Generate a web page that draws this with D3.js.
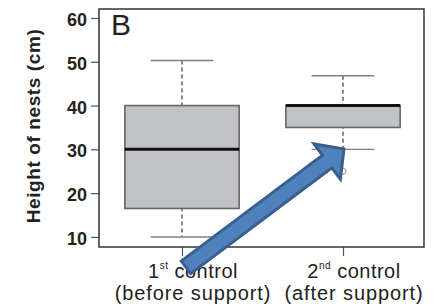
<!DOCTYPE html>
<html>
<head>
<meta charset="utf-8">
<script src="https://cdn.jsdelivr.net/npm/d3@7"></script>
<style>
  body { margin: 0; background: #fff; }
  text { font-family: "Liberation Sans", Arial, sans-serif; fill: #222; }
</style>
</head>
<body>
<script>
// box statistics
const groups = ["1st control", "2nd control"];
const sups = ["st", "nd"];
const subLabels = ["(before support)", "(after support)"];
const whiskLow = [10, 30];
const q1 = [16.5, 35];
const medians = [30, 40];
const q3 = [40, 40];
const whiskHigh = [50.3, 46.8];
const outliers = [[], [25]];
const yTicks = [10, 20, 30, 40, 50, 60];
// arrow annotation, [group position, value]
const arrowFrom = [1.025, 3.05];
const arrowTo = [2.006, 30.1];

const W = 436, H = 307;
const margin = {top: 9, right: 12, bottom: 60, left: 99};

let svg = d3.select("body").append("svg")
    .attr("width", W)
    .attr("height", H);

let xScale = d3.scaleLinear()
    .domain([0.4845, 2.503])
    .range([margin.left, W - margin.right]);

let yScale = d3.scaleLinear()
    .domain([7.7, 62.05])
    .range([H - margin.bottom, margin.top]);

const boxW = 0.71, capW = 0.39;
const data = groups.map((g, i) => ({
    pos: i + 1, lo: whiskLow[i], q1: q1[i], med: medians[i],
    q3: q3[i], hi: whiskHigh[i], out: outliers[i]
}));

// y axis (R style: ticks sit on the frame)
let yAxis = d3.axisLeft(yScale).tickValues(yTicks).tickSize(8).tickPadding(4);
let gy = svg.append("g")
    .attr("transform", `translate(${margin.left},0)`)
    .call(yAxis);
gy.select(".domain").remove();
gy.selectAll(".tick line").attr("stroke", "#555").attr("stroke-width", 1.2);
gy.selectAll(".tick text")
    .attr("font-size", "18px")
    .attr("font-weight", "bold")
    .attr("font-family", "Liberation Sans, Arial, sans-serif")
    .attr("fill", "#222")
    .attr("dy", "0.42em");

// x axis ticks
let xAxis = d3.axisBottom(xScale).tickValues([1, 2]).tickSize(9).tickFormat("");
let gx = svg.append("g")
    .attr("transform", `translate(0,${H - margin.bottom})`)
    .call(xAxis);
gx.select(".domain").remove();
gx.selectAll(".tick line").attr("stroke", "#555").attr("stroke-width", 1.2);

// whiskers
let boxes = svg.append("g").selectAll("g")
    .data(data)
    .join("g");

boxes.append("line")
    .attr("x1", d => xScale(d.pos)).attr("x2", d => xScale(d.pos))
    .attr("y1", d => yScale(d.hi)).attr("y2", d => yScale(d.lo))
    .attr("stroke", "#111")
    .attr("stroke-width", 1)
    .attr("stroke-dasharray", "4,3");

boxes.selectAll(".cap")
    .data(d => [d, d].map((e, k) => ({pos: e.pos, v: k ? e.lo : e.hi})))
    .join("line")
    .attr("class", "cap")
    .attr("x1", d => xScale(d.pos - capW / 2))
    .attr("x2", d => xScale(d.pos + capW / 2))
    .attr("y1", d => yScale(d.v)).attr("y2", d => yScale(d.v))
    .attr("stroke", "#808080")
    .attr("stroke-width", 1.4);

boxes.append("rect")
    .attr("x", d => xScale(d.pos - boxW / 2))
    .attr("width", d => xScale(d.pos + boxW / 2) - xScale(d.pos - boxW / 2))
    .attr("y", d => yScale(d.q3))
    .attr("height", d => yScale(d.q1) - yScale(d.q3))
    .attr("fill", "#c1c2c6")
    .attr("stroke", "#666")
    .attr("stroke-width", 1.6);

boxes.append("line")
    .attr("x1", d => xScale(d.pos - boxW / 2))
    .attr("x2", d => xScale(d.pos + boxW / 2))
    .attr("y1", d => yScale(d.med)).attr("y2", d => yScale(d.med))
    .attr("stroke", "#111")
    .attr("stroke-width", 3);

boxes.selectAll("circle")
    .data(d => d.out.map(v => ({pos: d.pos, v: v})))
    .join("circle")
    .attr("cx", d => xScale(d.pos))
    .attr("cy", d => yScale(d.v))
    .attr("r", 3)
    .attr("fill", "none")
    .attr("stroke", "#888")
    .attr("stroke-width", 1);

// frame
svg.append("rect")
    .attr("x", margin.left)
    .attr("y", margin.top)
    .attr("width", W - margin.right - margin.left)
    .attr("height", H - margin.bottom - margin.top)
    .attr("fill", "none")
    .attr("stroke", "#333")
    .attr("stroke-width", 1.5);

// panel letter
svg.append("text")
    .attr("x", margin.left + 12)
    .attr("y", margin.top + 26)
    .attr("font-size", "30px")
    .text("B");

// group labels
const labelDx = 11;
let xl = svg.append("g").selectAll("g")
    .data(groups)
    .join("g");

let line1 = xl.append("text")
    .attr("x", (d, i) => xScale(i + 1) + labelDx)
    .attr("y", H - margin.bottom + 31)
    .attr("text-anchor", "middle")
    .attr("font-size", "20px")
    .attr("letter-spacing", "0.5px");
line1.append("tspan").text(d => d.split(/[a-z]/)[0]);
line1.append("tspan")
    .attr("font-size", "10px")
    .attr("dy", -9)
    .text((d, i) => sups[i]);
line1.append("tspan")
    .attr("dy", 9)
    .text(d => " " + d.split(" ")[1]);

xl.append("text")
    .attr("x", (d, i) => xScale(i + 1) + labelDx)
    .attr("y", H - margin.bottom + 53)
    .attr("text-anchor", "middle")
    .attr("font-size", "20px")
    .attr("letter-spacing", "0.9px")
    .text((d, i) => subLabels[i]);

// y label
svg.append("text")
    .attr("transform", `translate(39.5,${(margin.top + H - margin.bottom) / 2 - 2}) rotate(-90)`)
    .attr("text-anchor", "middle")
    .attr("font-size", "19px")
    .attr("font-weight", "bold")
    .attr("letter-spacing", "0.6px")
    .text("Height of nests (cm)");

// blue arrow drawn on top
function arrowPath(p0, p1, half, headHalf, headLen) {
    let dx = p1[0] - p0[0], dy = p1[1] - p0[1];
    let len = Math.hypot(dx, dy);
    let ux = dx / len, uy = dy / len, nx = -uy, ny = ux;
    let bx = p1[0] - ux * headLen, by = p1[1] - uy * headLen;
    let pts = [
        [p0[0] + nx * half, p0[1] + ny * half],
        [bx + nx * half, by + ny * half],
        [bx + nx * headHalf, by + ny * headHalf],
        [p1[0], p1[1]],
        [bx - nx * headHalf, by - ny * headHalf],
        [bx - nx * half, by - ny * half],
        [p0[0] - nx * half, p0[1] - ny * half]
    ];
    return d3.line()(pts) + "Z";
}

svg.append("path")
    .attr("d", arrowPath(
        [xScale(arrowFrom[0]), yScale(arrowFrom[1])],
        [xScale(arrowTo[0]), yScale(arrowTo[1])],
        7.8, 22, 21))
    .attr("fill", "#4f81bd")
    .attr("stroke", "#3a5f8e")
    .attr("stroke-width", 3)
    .attr("stroke-linejoin", "miter");
</script>
</body>
</html>
